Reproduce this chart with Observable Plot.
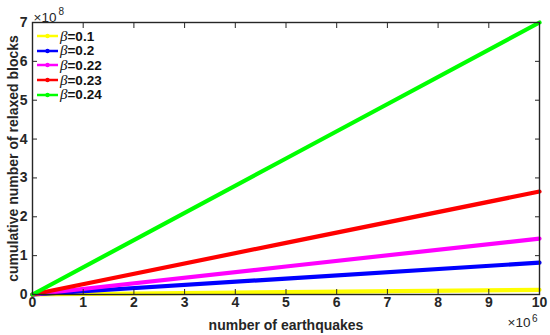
<!DOCTYPE html>
<html><head><meta charset="utf-8">
<script src="https://cdn.jsdelivr.net/npm/d3@7"></script>
<script src="https://cdn.jsdelivr.net/npm/@observablehq/plot@0.6"></script>
<style>
body{margin:0;background:#fff;font-family:"Liberation Sans",Arial,sans-serif;}
#wrap{position:relative;width:550px;height:335px;}
#legend{position:absolute;left:36px;top:29px;font-weight:bold;font-size:13.5px;color:#111;}
#legend .row{display:flex;align-items:center;height:14.6px;}
#legend svg{margin-right:1px;}
</style></head>
<body><div id="wrap"><div id="legend"></div></div>
<script>
const betas = ["0.1","0.2","0.22","0.23","0.24"];
const colors = ["#ffff00","#0000ff","#ff00ff","#ff0000","#00ff00"];
const quakes = [0, 5, 10];            // ×10^6
const relaxed = {                      // ×10^8
  "0.1":  [0, 0.06, 0.12],
  "0.2":  [0, 0.41, 0.82],
  "0.22": [0, 0.72, 1.44],
  "0.23": [0, 1.33, 2.65],
  "0.24": [0, 3.5, 7.0]
};
const xTicks = [0,1,2,3,4,5,6,7,8,9,10];
const yTicks = [0,1,2,3,4,5,6,7];

const data = betas.flatMap(b => quakes.map((q,i) => ({beta:b, x:q, y:relaxed[b][i]})));

const chart = Plot.plot({
  width:550, height:335,
  marginLeft:32, marginRight:11, marginTop:22, marginBottom:41,
  style:{fontFamily:"Liberation Sans, Arial, sans-serif", fontSize:"14px", fontWeight:"bold", color:"#262626", background:"#fff"},
  x:{domain:[0,10]},
  y:{domain:[0,7]},
  color:{domain:betas, range:colors},
  marks:[
    Plot.line(data,{x:"x", y:"y", z:"beta", stroke:"beta", strokeWidth:4.2}),
    Plot.frame({stroke:"#262626", strokeWidth:1.4}),
    Plot.axisX({ticks:xTicks, tickSize:-5, tickFormat:()=>"", label:null, stroke:"#262626"}),
    Plot.axisX({anchor:"top", ticks:xTicks, tickSize:-5, tickFormat:()=>"", label:null, stroke:"#262626"}),
    Plot.axisY({ticks:yTicks, tickSize:-5, tickFormat:()=>"", label:null, stroke:"#262626"}),
    Plot.axisY({anchor:"right", ticks:yTicks, tickSize:-5, tickFormat:()=>"", label:null, stroke:"#262626"}),
    Plot.axisX({ticks:xTicks, tickSize:0, tickPadding:3, tickFormat:d=>d, label:"number of earthquakes", labelArrow:"none", labelAnchor:"center", labelOffset:35, fill:"#262626", fontSize:14}),
    Plot.axisY({ticks:yTicks, tickSize:0, tickPadding:5, tickFormat:d=>d, label:"cumulative number of relaxed blocks", labelArrow:"none", labelAnchor:"center", labelOffset:24, fill:"#262626", fontSize:14}),
    Plot.text(["×10"],{frameAnchor:"top-left", dy:-10, dx:1, textAnchor:"start", fontSize:13.5, fontWeight:"normal", fill:"#262626", text:d=>d}),
    Plot.text(["8"],{frameAnchor:"top-left", dy:-15, dx:26, textAnchor:"start", fontSize:10, fontWeight:"normal", fill:"#262626", text:d=>d}),
    Plot.text(["×10"],{frameAnchor:"bottom-right", dy:32, dx:-9, textAnchor:"end", fontSize:13.5, fontWeight:"normal", fill:"#262626", text:d=>d}),
    Plot.text(["6"],{frameAnchor:"bottom-right", dy:27, dx:-2, textAnchor:"end", fontSize:10, fontWeight:"normal", fill:"#262626", text:d=>d})
  ]
});
document.getElementById("wrap").prepend(chart);

const legend = d3.select("#legend");
betas.forEach((b,i) => {
  const row = legend.append("div").attr("class","row");
  const s = row.append("svg").attr("width",23).attr("height",10);
  s.append("line").attr("x1",1).attr("x2",22).attr("y1",5).attr("y2",5).attr("stroke",colors[i]).attr("stroke-width",2.5);
  s.append("circle").attr("cx",11.5).attr("cy",5).attr("r",2.2).attr("fill",colors[i]);
  const t = row.append("span");
  t.append("i").style("font-family","'Liberation Serif', serif").style("font-weight","normal").style("font-size","15px").text("β");
  t.append("span").text("=" + b);
});
</script></body></html>
